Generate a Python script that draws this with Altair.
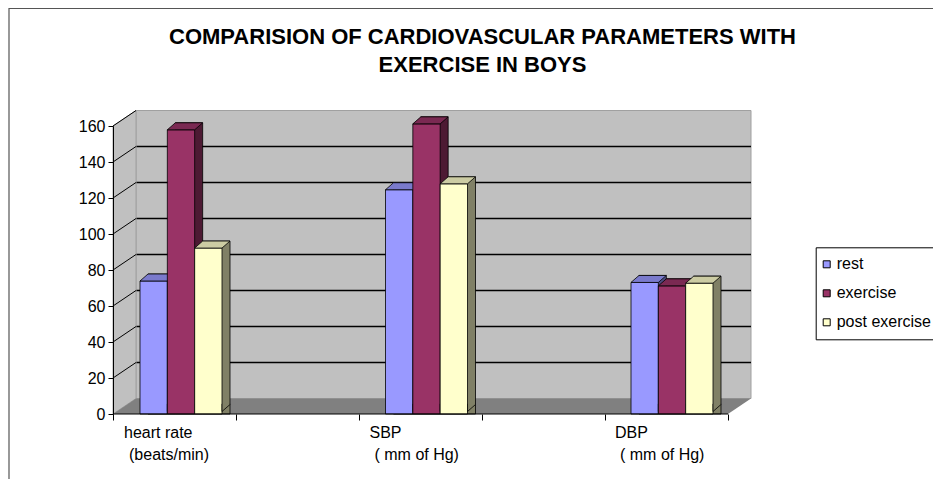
import altair as alt
import pandas as pd

# ---------------- data ----------------
categories = ["heart rate", "SBP", "DBP"]
label_line1 = ["heart rate", "SBP", "DBP"]
label_line2 = ["(beats/min)", "( mm of Hg)", "( mm of Hg)"]
series = ["rest", "exercise", "post exercise"]
rest = [72.5, 123.2, 71.7]
exercise = [156.5, 159.8, 69.8]
post_exercise = [90.8, 126.5, 71.3]
y_ticks = [0, 20, 40, 60, 80, 100, 120, 140, 160]
wall_grid = [20, 40, 60, 80, 100, 120, 140]
side_grid = [20, 40, 60, 80, 100, 120, 140, 160]
x_ticks = [0, 1, 2, 3, 4, 5]
title_text = "COMPARISION OF CARDIOVASCULAR PARAMETERS WITH\nEXERCISE IN BOYS"

# ---------------- styles / layout ----------------
front_colors = ["#9999FF", "#993366", "#FFFFCC"]
top_colors = ["#7A7ACC", "#7A2952", "#CCCCA3"]
side_colors = ["#4D4D80", "#4D1A33", "#808066"]
WALL = "#C0C0C0"
FLOOR = "#808080"
FONT = "Liberation Sans"

W, H = 615, 288          # front plane of the plot
DX, DY = 23, -15.5       # depth offset of the back wall
BDX, BDY = 8, -7         # depth of the bars
LIFT = -2.5              # bars stand slightly behind the front plane
GROUP = 82.0             # width of a cluster of three bars
BAND_LO, BAND_HI = -54.75, 681.75
BW = GROUP / 3.0         # bar width
HW = BW / 2.0

rows = []
for i, c in enumerate(categories):
    for s, vals in zip(series, [rest, exercise, post_exercise]):
        rows.append({"category": c, "series": s, "value": vals[i]})
bars = pd.DataFrame(rows)
bars["zero"] = 0.0

labels = pd.DataFrame({"category": categories, "l1": label_line1, "l2": label_line2})
one = pd.DataFrame({"a": [0], "b": [5], "t": [title_text]})

yscale = alt.Scale(domain=[0, 160], nice=False, zero=True)
xscale = alt.Scale(domain=categories, range=[BAND_LO, BAND_HI], paddingInner=0, paddingOuter=0)
band_w = (BAND_HI - BAND_LO) / 3.0
off_lo = band_w / 2 - GROUP / 2
offscale = alt.Scale(type="band", domain=series, range=[off_lo, off_lo + GROUP],
                     paddingInner=0, paddingOuter=0)
offscale_back = alt.Scale(type="band", domain=series, range=[off_lo + BDX, off_lo + GROUP + BDX],
                          paddingInner=0, paddingOuter=0)
# bar centres, for the point-shaped faces
offscale_pt = alt.Scale(type="point", domain=series, range=[off_lo + HW, off_lo + GROUP - HW],
                        padding=0)

yaxis = alt.Axis(values=y_ticks, title=None, grid=False, domain=True, domainColor="black",
                 domainWidth=1, ticks=True, tickColor="black", tickSize=5, labelPadding=3,
                 labelFont=FONT, labelFontSize=16, labelColor="black", zindex=1)


def Y(field):
    return alt.Y(field, scale=yscale, axis=yaxis, stack=None)


# ---------------- decorations ----------------
border = alt.Chart(one).mark_rect(fillOpacity=0, stroke="#555555", strokeWidth=1.2).encode(
    x=alt.value(-104), x2=alt.value(W + 400), y=alt.value(-117.5), y2=alt.value(H + 200))

title = alt.Chart(one).mark_text(font=FONT, fontSize=22, fontWeight="bold", color="black",
                                 align="center", baseline="alphabetic", lineBreak="\n",
                                 lineHeight=28).encode(
    x=alt.value(W / 2 + 62), y=alt.value(-82), text="t:N")

back_wall = alt.Chart(one).mark_rect(fill=WALL, stroke="#A0A0A0", strokeWidth=1).encode(
    x=alt.value(DX), x2=alt.value(W + DX), y=alt.value(DY), y2=alt.value(H + DY))

wg = pd.DataFrame({"v": wall_grid})
back_grid = alt.Chart(wg).mark_rule(color="black", strokeWidth=1.3, yOffset=DY, y2Offset=DY).encode(
    x=alt.value(DX), x2=alt.value(W + DX), y=Y("v:Q"), y2="v:Q")

side_path = f"M0,0 L0,{-H} L{DX},{-H + DY} L{DX},{DY} Z"
side_wall = alt.Chart(one).mark_point(shape=side_path, size=4, filled=True, fill=WALL,
                                      stroke="#A0A0A0", strokeWidth=1, opacity=1).encode(
    x=alt.value(0), y=alt.value(H))

sg = pd.DataFrame({"v": side_grid})
side_lines = alt.Chart(sg).mark_rule(color="black", strokeWidth=1, y2Offset=DY).encode(
    x=alt.value(0), x2=alt.value(DX), y=Y("v:Q"), y2="v:Q")

floor_path = f"M0,0 L{DX},{DY} L{W + DX},{DY} L{W},0 Z"
floor = alt.Chart(one).mark_point(shape=floor_path, size=4, filled=True, fill=FLOOR,
                                  strokeWidth=0, opacity=1).encode(
    x=alt.value(0), y=alt.value(H))

# ---------------- bars (3-D look) ----------------
legend = alt.Legend(title=None, orient="none", legendX=702.7, legendY=121.3,
                    strokeColor="black", fillColor="white", padding=9, rowPadding=13,
                    symbolType="square", symbolSize=49, symbolStrokeColor="black",
                    symbolStrokeWidth=1, symbolOffset=-6, labelFont=FONT, labelFontSize=16,
                    labelColor="black", labelOffset=2, cornerRadius=0)

# point-shaped faces are centred on the bar
top_path = f"M{-HW},0 L{-HW + BDX},{BDY} L{HW + BDX},{BDY} L{HW},0 Z"
foot_path = f"M{HW + BDX},{BDY - 0.6} L{HW + BDX},{BDY} L{HW},0 L{HW},{BDY - 0.6}"

bar_layers = []
for i, s in enumerate(series):
    base = alt.Chart(bars).transform_filter(alt.datum.series == s)
    xenc = alt.X("category:N", scale=xscale, axis=None)
    oenc = alt.XOffset("series:N", scale=offscale)
    penc = alt.XOffset("series:N", scale=offscale_pt)
    shadow = base.mark_bar(fill=side_colors[i], stroke="black", strokeWidth=0.8,
                           yOffset=LIFT + BDY, y2Offset=LIFT + BDY).encode(
        x=xenc, xOffset=alt.XOffset("series:N", scale=offscale_back), y=Y("value:Q"))
    front = base.mark_bar(stroke="black", strokeWidth=0.8, yOffset=LIFT, y2Offset=LIFT).encode(
        x=xenc, xOffset=oenc, y=Y("value:Q"),
        fill=alt.Fill("series:N", scale=alt.Scale(domain=series, range=front_colors), legend=legend))
    foot = base.mark_point(shape=foot_path, size=4, filled=True, fill=side_colors[i],
                           stroke="black", strokeWidth=0.8, opacity=1, yOffset=LIFT).encode(
        x=xenc, xOffset=penc, y=Y("zero:Q"))
    top = base.mark_point(shape=top_path, size=4, filled=True, fill=top_colors[i],
                          stroke="black", strokeWidth=0.8, opacity=1, yOffset=LIFT).encode(
        x=xenc, xOffset=penc, y=Y("value:Q"))
    bar_layers += [shadow, front, foot, top]

# ---------------- front category axis ----------------
xaxis_line = alt.Chart(one).mark_rule(color="black", strokeWidth=1).encode(
    x=alt.X("a:Q", scale=alt.Scale(domain=[0, 5], nice=False, zero=False),
            axis=alt.Axis(values=x_ticks, labels=False, ticks=True, tickSize=6,
                          tickColor="black", domain=False, grid=False, title=None, zindex=1)),
    x2="b:Q", y=alt.value(H))

lab1 = alt.Chart(labels).mark_text(align="left", baseline="alphabetic", dx=-57, font=FONT,
                                   fontSize=16, color="black").encode(
    x=alt.X("category:N", scale=xscale, axis=None), y=alt.value(H + 24), text="l1:N")
lab2 = alt.Chart(labels).mark_text(align="left", baseline="alphabetic", dx=-52, font=FONT,
                                   fontSize=16, color="black").encode(
    x=alt.X("category:N", scale=xscale, axis=None), y=alt.value(H + 46), text="l2:N")

chart = alt.layer(
    border, title, back_wall, back_grid, side_wall, side_lines, floor,
    *bar_layers, xaxis_line, lab1, lab2
).resolve_scale(x="independent", xOffset="independent").properties(
    width=W, height=H,
    autosize=alt.AutoSizeParams(type="none"),
    padding={"left": 105, "top": 118, "right": 205, "bottom": 65},
    background="white",
).configure_view(strokeWidth=0)

chart.save("out.html", embed_options={"renderer": "svg", "actions": False})
